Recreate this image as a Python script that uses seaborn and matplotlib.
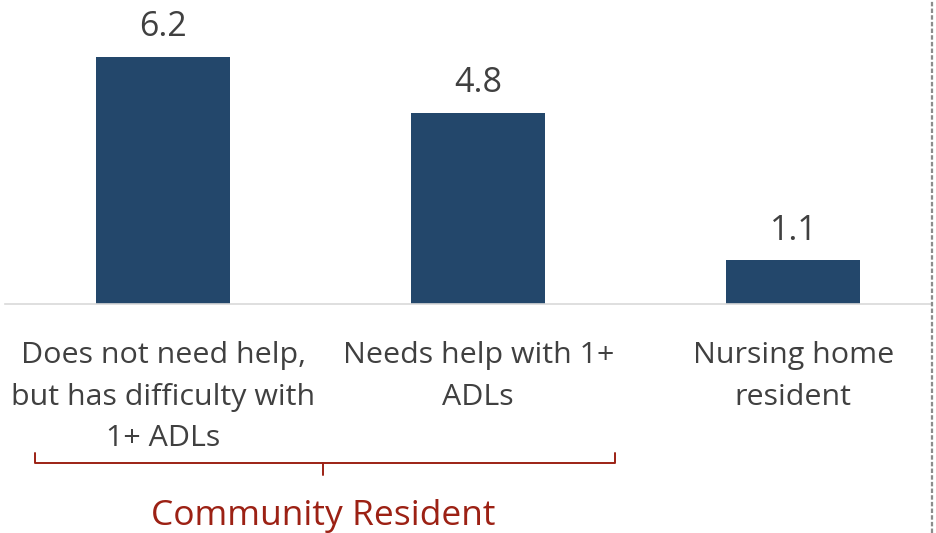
import pandas as pd
import matplotlib.pyplot as plt
import seaborn as sns
from matplotlib.lines import Line2D
import matplotlib.transforms as mtransforms

# data
categories = ["Does not need help,\nbut has difficulty with\n1+ ADLs",
              "Needs help with 1+\nADLs",
              "Nursing home\nresident"]
values = [6.2, 4.8, 1.1]
group_label = "Community Resident"

df = pd.DataFrame({"category": categories, "value": values})

sns.set_theme(style="white")
plt.rcParams['font.family'] = ['Open Sans', 'DejaVu Sans']

bar_color = "#23476B"
text_color = "#404040"
red = "#9C2114"

fig = plt.figure(figsize=(9.36, 5.33), dpi=100)
ax = fig.add_axes([5 / 936, (533 - 304) / 533, (932 - 5) / 936, 304 / 533])

sns.barplot(data=df, x="category", y="value", color=bar_color, width=0.425,
            saturation=1, linewidth=0, ax=ax)

# value labels
for i, v in enumerate(values):
    ax.annotate(f"{v:.1f}", xy=(i, v), xytext=(0, 9), textcoords="offset points",
                ha="center", va="bottom", fontsize=24.5, color=text_color)

ax.set_xlim(-0.502, 2.44)
ax.set_ylim(0, 7.62)
ax.set_xlabel("")
ax.set_ylabel("")
ax.set_yticks([])
ax.tick_params(axis="x", length=0, pad=27, labelsize=21.9, labelcolor=text_color)
for lab in ax.get_xticklabels():
    lab.set_linespacing(1.56)

for s in ["top", "left", "right"]:
    ax.spines[s].set_visible(False)
ax.spines["bottom"].set_color("#D9D9D9")
ax.spines["bottom"].set_linewidth(1.2)

# bracket under community resident categories
trans = mtransforms.blended_transform_factory(ax.transData, ax.transAxes)
x0, x1, xc = -0.406, 1.435, 0.508
y_top, y_mid, y_tip = -0.49, -0.523, -0.5625
ax.plot([x0, x0, x1, x1], [y_top, y_mid, y_mid, y_top], color=red, lw=1.4,
        transform=trans, clip_on=False)
ax.plot([xc, xc], [y_mid, y_tip], color=red, lw=1.4, transform=trans, clip_on=False)
ax.text(xc, -0.64, group_label, transform=trans, ha="center", va="top",
        fontsize=25.5, color=red)

# dashed divider on the right
fig.add_artist(Line2D([932 / 936, 932 / 936], [0, 1], color="#8C8C8C", lw=1.6,
                      linestyle=(0, (2, 1)), transform=fig.transFigure))

fig.savefig("out.png", dpi=100)
